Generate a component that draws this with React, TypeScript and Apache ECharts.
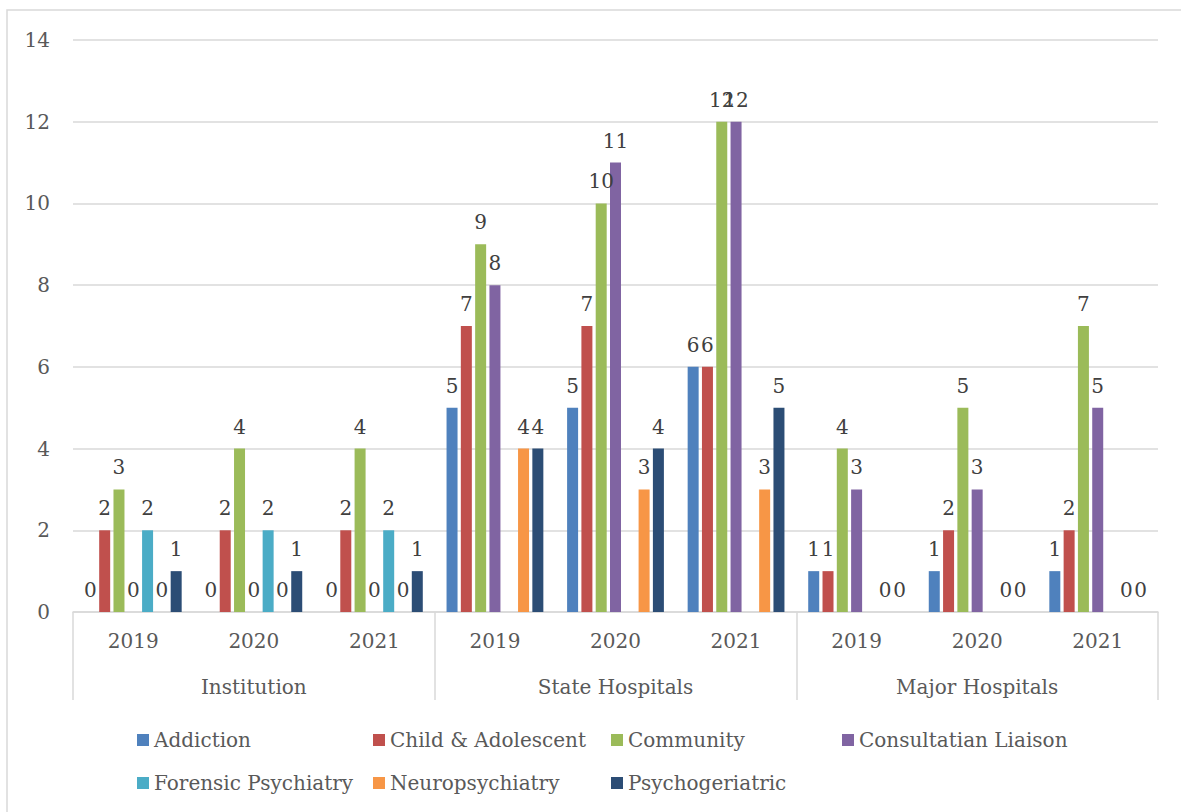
import React, { useEffect, useRef } from 'react';
import * as echarts from 'echarts';

const years = ['2019', '2020', '2021', '2019', '2020', '2021', '2019', '2020', '2021'];
const groups = ['Institution', 'State Hospitals', 'Major Hospitals'];

const seriesNames = [
  'Addiction',
  'Child & Adolescent',
  'Community',
  'Consultatian Liaison',
  'Forensic Psychiatry',
  'Neuropsychiatry',
  'Psychogeriatric',
];

const addiction = [0, 0, 0, 5, 5, 6, 1, 1, 1];
const childAdolescent = [2, 2, 2, 7, 7, 6, 1, 2, 2];
const community = [3, 4, 4, 9, 10, 12, 4, 5, 7];
const consultatianLiaison = [0, 0, 0, 8, 11, 12, 3, 3, 5];
const forensicPsychiatry = [2, 2, 2, null, null, null, null, null, null];
const neuropsychiatry = [0, 0, 0, 4, 3, 3, 0, 0, 0];
const psychogeriatric = [1, 1, 1, 4, 4, 5, 0, 0, 0];

const seriesData = [
  addiction,
  childAdolescent,
  community,
  consultatianLiaison,
  forensicPsychiatry,
  neuropsychiatry,
  psychogeriatric,
];

const colors = ['#4F81BD', '#C0504D', '#9BBB59', '#8064A2', '#4BACC6', '#F79646', '#2C4D75'];

const yMin = 0;
const yMax = 14;
const yInterval = 2;

const FONT = 'DejaVu Serif';
const FS = 20;

const legendColumns = [
  { names: ['Addiction', 'Forensic Psychiatry'], left: 137 },
  { names: ['Child & Adolescent', 'Neuropsychiatry'], left: 373 },
  { names: ['Community', 'Psychogeriatric'], left: 611 },
  { names: ['Consultatian Liaison'], left: 842 },
];

export default function App() {
  const ref = useRef<HTMLDivElement>(null);
  useEffect(() => {
    document.body.style.margin = '0';
    if (!ref.current) return;
    const chart = echarts.init(ref.current, null, { renderer: 'svg' });
    chart.setOption({
      animation: false,
      color: colors,
      textStyle: { fontFamily: FONT },
      graphic: [
        {
          type: 'rect',
          shape: { x: 7, y: 10, width: 1300, height: 900 },
          style: { fill: 'none', stroke: '#D9D9D9', lineWidth: 1.5 },
          silent: true,
        },
      ],
      legend: legendColumns.map((c) => ({
        data: c.names,
        orient: 'vertical',
        left: c.left,
        top: 728,
        padding: 0,
        itemWidth: 12,
        itemHeight: 12,
        itemGap: 19,
        icon: 'rect',
        textStyle: { fontFamily: FONT, fontSize: FS, color: '#595959', lineHeight: 24 },
        selectedMode: false,
      })),
      grid: { left: 73, right: 23, top: 40, bottom: 200, containLabel: false },
      xAxis: [
        {
          type: 'category',
          data: years,
          position: 'bottom',
          axisLine: { show: true, lineStyle: { color: '#D9D9D9', width: 1.5 } },
          axisTick: { show: false },
          axisLabel: { fontFamily: FONT, fontSize: FS, color: '#595959', margin: 19 },
        },
        {
          type: 'category',
          data: groups,
          position: 'bottom',
          axisLine: { show: false },
          axisTick: { show: true, length: 88, lineStyle: { color: '#D9D9D9', width: 1.5 } },
          axisLabel: { fontFamily: FONT, fontSize: FS, color: '#595959', margin: 65 },
        },
      ],
      yAxis: {
        type: 'value',
        min: yMin,
        max: yMax,
        interval: yInterval,
        axisLine: { show: false },
        axisTick: { show: false },
        splitLine: { lineStyle: { color: '#D9D9D9', width: 1.5 } },
        axisLabel: { fontFamily: FONT, fontSize: FS, color: '#595959', margin: 23 },
      },
      series: seriesNames.map((name, i) => ({
        name,
        type: 'bar',
        xAxisIndex: 0,
        data: seriesData[i],
        barWidth: 11,
        barGap: '30%',
        itemStyle: { color: colors[i] },
        label: {
          show: true,
          position: 'top',
          distance: 12,
          fontFamily: FONT,
          fontSize: FS,
          color: '#404040',
        },
      })),
    });
    return () => chart.dispose();
  }, []);
  return <div ref={ref} style={{ width: 1181, height: 812 }} />;
}
